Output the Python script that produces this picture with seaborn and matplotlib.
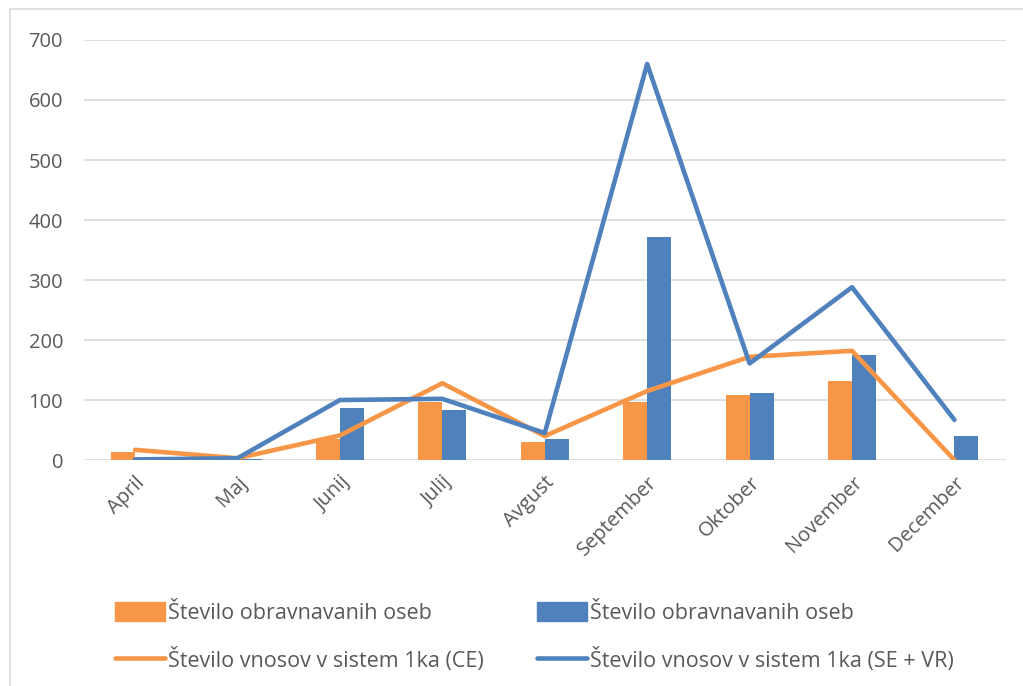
import numpy as np
import pandas as pd
import matplotlib
matplotlib.use("Agg")
import matplotlib.pyplot as plt
import seaborn as sns
from matplotlib.patches import Patch, Rectangle
from matplotlib.lines import Line2D

months = ["April", "Maj", "Junij", "Julij", "Avgust", "September", "Oktober", "November", "December"]
osebe_ce = [13, 2, 35, 97, 30, 97, 108, 132, 0]
osebe_se = [0, 2, 86, 84, 35, 371, 111, 175, 40]
vnosi_ce = [17, 3, 41, 128, 40, 115, 172, 182, 0]
vnosi_se = [1, 3, 100, 102, 45, 660, 161, 288, 67]

lbl_bar = "Število obravnavanih oseb"
lbl_ce = "Število vnosov v sistem 1ka (CE)"
lbl_se = "Število vnosov v sistem 1ka (SE + VR)"

orange = "#F79646"
blue = "#4F81BD"
grey = "#595959"

sns.set_style("white")
plt.rcParams["font.family"] = ["Open Sans", "DejaVu Sans"]

bars = pd.DataFrame({
    "mesec": months * 2,
    "vrednost": osebe_ce + osebe_se,
    "skupina": ["CE"] * len(months) + ["SE"] * len(months),
})

fig = plt.figure(figsize=(10.23, 6.86), dpi=100)
ax = fig.add_axes([0.082, 0.3294, 0.901, 0.6123])

sns.barplot(data=bars, x="mesec", y="vrednost", hue="skupina", order=months,
            palette=[orange, blue], width=0.47, saturation=1, linewidth=0,
            legend=False, ax=ax)

xs = np.arange(len(months))
ax.plot(xs, vnosi_ce, color=orange, lw=3.3, solid_capstyle="round", solid_joinstyle="round", zorder=4)
ax.plot(xs, vnosi_se, color=blue, lw=3.3, solid_capstyle="round", solid_joinstyle="round", zorder=5)

ax.set_xlim(-0.5, len(months) - 0.5)
ax.set_ylim(0, 700)
ax.set_yticks(range(0, 701, 100))
ax.yaxis.grid(True, color="#d9d9d9", lw=1.2)
ax.set_axisbelow(True)
for s in ax.spines.values():
    s.set_visible(False)
ax.set_xlabel("")
ax.set_ylabel("")
ax.tick_params(axis="both", length=0, labelsize=14.5, colors=grey)
ax.tick_params(axis="y", pad=15)
ax.set_xticks(xs)
ax.set_xticklabels(months, rotation=45, ha="right", rotation_mode="anchor")
ax.tick_params(axis="x", pad=9)

handles = [Patch(color=orange), Patch(color=blue),
           Line2D([], [], color=orange, lw=3.3, solid_capstyle="round"),
           Line2D([], [], color=blue, lw=3.3, solid_capstyle="round")]
labels = [lbl_bar, lbl_bar, lbl_ce, lbl_se]
# legenda se polni po stolpcih, zato preuredimo
order = [0, 2, 1, 3]
fig.legend([handles[i] for i in order], [labels[i] for i in order], ncol=2,
           loc="upper left", bbox_to_anchor=(0.104, 0.135), frameon=False,
           fontsize=15.5, labelcolor=grey, handlelength=2.3, handleheight=1.0,
           handletextpad=0.15, columnspacing=2.5, labelspacing=1.1,
           borderaxespad=0, bbox_transform=fig.transFigure)

fig.patches.append(Rectangle((10 / 1023, -0.01), 1.0, (686 - 9) / 686 + 0.01,
                             transform=fig.transFigure, fill=False,
                             edgecolor="#d9d9d9", lw=1.2))

fig.savefig("out.png", dpi=100)
